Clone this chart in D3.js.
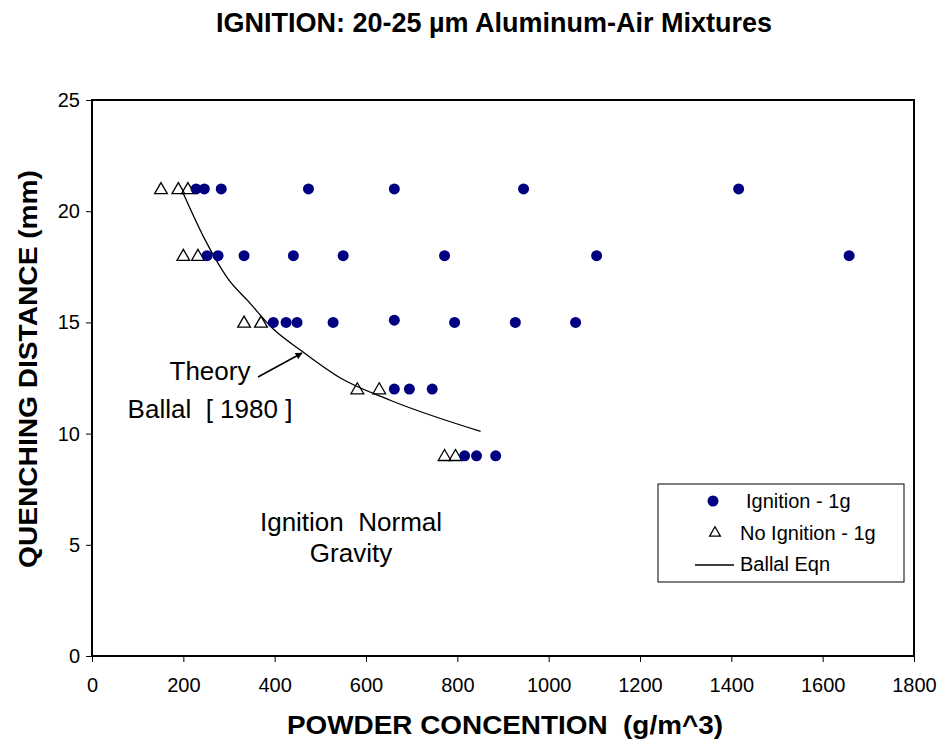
<!DOCTYPE html>
<html>
<head>
<meta charset="utf-8">
<script src="https://cdn.jsdelivr.net/npm/d3@7"></script>
<style>
  html, body { margin: 0; padding: 0; background: #fff; }
  svg { display: block; font-family: "Liberation Sans", Arial, sans-serif; }
</style>
</head>
<body>
<svg id="chart" width="938" height="742"></svg>
<script>
// Ignition results: powder concentration (g/m^3) vs quenching distance (mm)
const ignitionX = [228, 246, 283, 474, 662, 945, 1416,
                   252, 276, 333, 441, 550, 772, 1105, 1658,
                   397, 425, 449, 528, 662, 794, 927, 1059,
                   662, 695, 745,
                   816, 842, 884];
const ignitionY = [21, 21, 21, 21, 21, 21, 21,
                   18, 18, 18, 18, 18, 18, 18, 18,
                   15, 15, 15, 15, 15.1, 15, 15, 15,
                   12, 12, 12,
                   9, 9, 9];

const noIgnitionX = [151, 189, 210, 200, 232, 333, 370, 581, 629, 772, 796];
const noIgnitionY = [21, 21, 21, 18, 18, 15, 15, 12, 12, 9, 9];

// Ballal equation (theory curve)
const ballalX = [200, 248, 300, 340, 397, 460, 544, 653, 851];
const ballalY = [20.8, 18.7, 16.9, 16.0, 14.7, 13.7, 12.5, 11.5, 10.1];

const xTicks = [0, 200, 400, 600, 800, 1000, 1200, 1400, 1600, 1800];
const yTicks = [0, 5, 10, 15, 20, 25];

const svg = d3.select("#chart");
const plotLeft = 92, plotRight = 914, plotTop = 100, plotBottom = 656;

const x = d3.scaleLinear().domain([0, 1800]).range([plotLeft, plotRight]);
const y = d3.scaleLinear().domain([0, 25]).range([plotBottom, plotTop]);

// Title
svg.append("text")
  .attr("x", 494).attr("y", 32)
  .attr("text-anchor", "middle")
  .attr("font-size", 27).attr("font-weight", "bold")
  .text("IGNITION: 20-25 µm Aluminum-Air Mixtures");

// Axes
const xAxis = svg.append("g")
  .attr("transform", `translate(0,${plotBottom})`)
  .call(d3.axisBottom(x).tickValues(xTicks).tickFormat(d3.format("d")).tickSize(6).tickPadding(16));
const yAxis = svg.append("g")
  .attr("transform", `translate(${plotLeft},0)`)
  .call(d3.axisLeft(y).tickValues(yTicks).tickFormat(d3.format("d")).tickSize(6).tickPadding(6));
[xAxis, yAxis].forEach(g => {
  g.select(".domain").remove();
  g.selectAll("line").attr("stroke", "#000").attr("stroke-width", 1);
  g.selectAll("text").attr("font-size", 20).attr("fill", "#000")
    .attr("font-family", "'Liberation Sans', Arial, sans-serif");
});

// Plot frame
svg.append("rect")
  .attr("x", plotLeft).attr("y", plotTop)
  .attr("width", plotRight - plotLeft).attr("height", plotBottom - plotTop)
  .attr("fill", "none").attr("stroke", "#000").attr("stroke-width", 2);

// Axis titles
svg.append("text")
  .attr("x", 505).attr("y", 734)
  .attr("text-anchor", "middle")
  .attr("font-size", 26).attr("font-weight", "bold")
  .attr("textLength", 436).attr("lengthAdjust", "spacingAndGlyphs")
  .attr("xml:space", "preserve")
  .text("POWDER CONCENTION  (g/m^3)");

svg.append("text")
  .attr("transform", "translate(37,369) rotate(-90)")
  .attr("text-anchor", "middle")
  .attr("font-size", 25).attr("font-weight", "bold")
  .attr("textLength", 398).attr("lengthAdjust", "spacingAndGlyphs")
  .text("QUENCHING DISTANCE (mm)");

// Ballal curve
const line = d3.line().x(d => x(d[0])).y(d => y(d[1])).curve(d3.curveMonotoneX);
svg.append("path")
  .datum(d3.zip(ballalX, ballalY))
  .attr("d", line)
  .attr("fill", "none").attr("stroke", "#000").attr("stroke-width", 1.3);

// Triangle symbol
const tri = d3.symbol().type(d3.symbolTriangle).size(70);

// No ignition points
svg.append("g").selectAll("path")
  .data(d3.zip(noIgnitionX, noIgnitionY))
  .join("path")
  .attr("d", tri)
  .attr("transform", d => `translate(${x(d[0])},${y(d[1]) + 1})`)
  .attr("fill", "none").attr("stroke", "#000").attr("stroke-width", 1.3);

// Ignition points
svg.append("g").selectAll("circle")
  .data(d3.zip(ignitionX, ignitionY))
  .join("circle")
  .attr("cx", d => x(d[0])).attr("cy", d => y(d[1]))
  .attr("r", 5.5)
  .attr("fill", "#000080");

// Annotations
const ann = svg.append("g").attr("font-size", 26).attr("fill", "#000");
ann.append("text").attr("x", 210).attr("y", 380).attr("text-anchor", "middle").text("Theory");
ann.append("text").attr("x", 210).attr("y", 418).attr("text-anchor", "middle").attr("xml:space", "preserve").text("Ballal  [ 1980 ]");
ann.append("text").attr("x", 351).attr("y", 531).attr("text-anchor", "middle").attr("xml:space", "preserve").text("Ignition  Normal");
ann.append("text").attr("x", 351).attr("y", 562).attr("text-anchor", "middle").text("Gravity");

// Arrow pointing at the curve
svg.append("defs").append("marker")
  .attr("id", "arrowhead").attr("viewBox", "0 0 10 10")
  .attr("refX", 9).attr("refY", 5)
  .attr("markerWidth", 8).attr("markerHeight", 7)
  .attr("markerUnits", "userSpaceOnUse")
  .attr("orient", "auto")
  .append("path").attr("d", "M0,0 L10,5 L0,10 z").attr("fill", "#000");
svg.append("line")
  .attr("x1", 258).attr("y1", 377).attr("x2", 302).attr("y2", 353)
  .attr("stroke", "#000").attr("stroke-width", 1.5)
  .attr("marker-end", "url(#arrowhead)");

// Legend
const lg = svg.append("g");
lg.append("rect")
  .attr("x", 658).attr("y", 484).attr("width", 246).attr("height", 98)
  .attr("fill", "#fff").attr("stroke", "#000").attr("stroke-width", 1);
lg.append("circle").attr("cx", 713).attr("cy", 501).attr("r", 5.5).attr("fill", "#000080");
lg.append("text").attr("x", 746).attr("y", 508).attr("font-size", 20).text("Ignition - 1g");
lg.append("path").attr("d", d3.symbol().type(d3.symbolTriangle).size(50)).attr("transform", "translate(715,533)")
  .attr("fill", "none").attr("stroke", "#000").attr("stroke-width", 1.3);
lg.append("text").attr("x", 740).attr("y", 540).attr("font-size", 20).text("No Ignition - 1g");
lg.append("line").attr("x1", 695).attr("x2", 734).attr("y1", 565).attr("y2", 565)
  .attr("stroke", "#000").attr("stroke-width", 1.3);
lg.append("text").attr("x", 740).attr("y", 571).attr("font-size", 20).text("Ballal Eqn");
</script>
</body>
</html>
